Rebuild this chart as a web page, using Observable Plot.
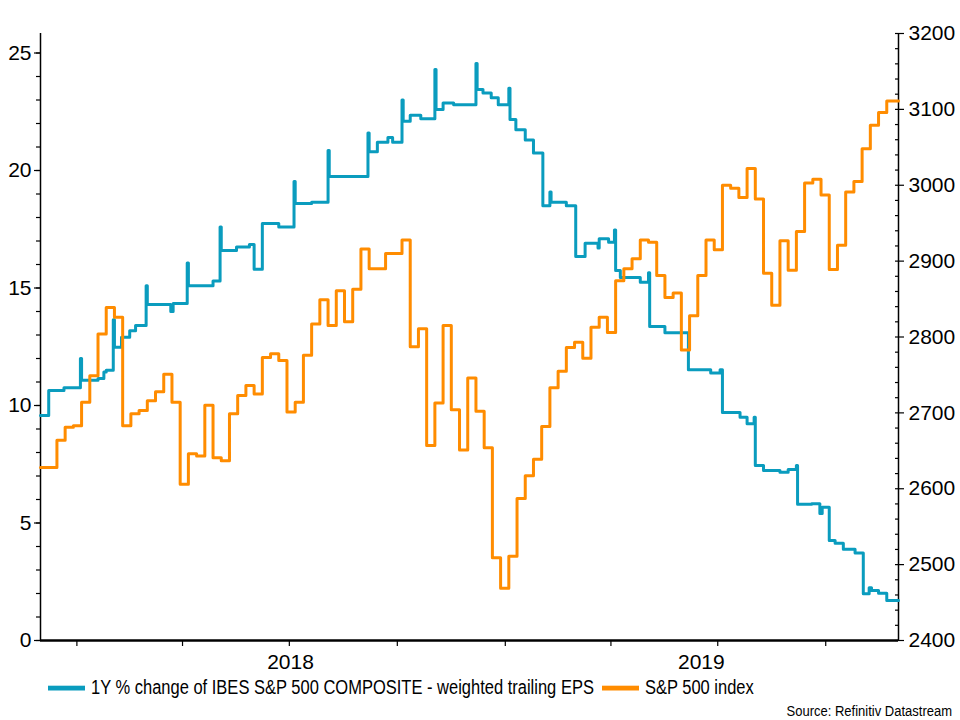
<!DOCTYPE html>
<html>
<head>
<meta charset="utf-8">
<script src="https://cdn.jsdelivr.net/npm/d3@7"></script>
<script src="https://cdn.jsdelivr.net/npm/@observablehq/plot@0.6"></script>
<style>
  html, body { margin: 0; padding: 0; background: #fff; }
  #wrap { position: relative; width: 960px; height: 720px; overflow: hidden;
          font-family: "Liberation Sans", Arial, sans-serif; color: #000; }
  #chart { position: absolute; left: 0; top: 0; }
  #legend { position: absolute; left: 48px; top: 678px; display: flex; align-items: center; font-size: 16.5px; white-space: nowrap;
            transform: scaleY(1.2); transform-origin: left center; }
  #legend .sw { display: inline-block; width: 37px; height: 4px; margin-right: 6px; }
  #legend .item { display: flex; align-items: center; margin-right: 8px; }
  #source { position: absolute; right: 8px; top: 703px; font-size: 13px; transform: scaleY(1.15); transform-origin: right center; }
</style>
</head>
<body>
<div id="wrap">
  <div id="chart"></div>
  <div id="legend"></div>
  <div id="source">Source: Refinitiv Datastream</div>
</div>
<script>
// ---- Data ----
const epsLabel = "1Y % change of IBES S&P 500 COMPOSITE - weighted trailing EPS";
const spxLabel = "S&P 500 index";
const epsColor = "#0a9cbe";
const spxColor = "#ff8c00";

// 1Y % change of trailing EPS (left axis), value from each date onward
const epsSeries = [
  ["2017-12-01", 9.57], ["2017-12-08", 10.64], ["2017-12-21", 10.76], ["2018-01-04", 12.0],
  ["2018-01-05", 11.07], ["2018-01-19", 11.15], ["2018-01-24", 11.43], ["2018-01-26", 11.5],
  ["2018-02-01", 13.65], ["2018-02-02", 12.48], ["2018-02-08", 12.9], ["2018-02-15", 13.18],
  ["2018-02-20", 13.4], ["2018-03-01", 15.1], ["2018-03-02", 14.3], ["2018-03-22", 14.0],
  ["2018-03-24", 14.34], ["2018-04-05", 16.06], ["2018-04-06", 15.1], ["2018-04-27", 15.3],
  ["2018-05-03", 17.6], ["2018-05-04", 16.6], ["2018-05-17", 16.75], ["2018-05-28", 16.85],
  ["2018-06-01", 15.8], ["2018-06-08", 17.74], ["2018-06-22", 17.6], ["2018-07-05", 19.53],
  ["2018-07-06", 18.6], ["2018-07-20", 18.65], ["2018-08-03", 20.85], ["2018-08-04", 19.75],
  ["2018-09-06", 21.6], ["2018-09-07", 20.8], ["2018-09-14", 21.2], ["2018-09-23", 21.4],
  ["2018-09-27", 21.2], ["2018-10-05", 23.0], ["2018-10-06", 22.1], ["2018-10-12", 22.35],
  ["2018-10-21", 22.2], ["2018-11-02", 24.3], ["2018-11-03", 22.6], ["2018-11-09", 22.87],
  ["2018-11-18", 22.8], ["2018-12-07", 24.55], ["2018-12-08", 23.45], ["2018-12-13", 23.3],
  ["2018-12-20", 23.1], ["2018-12-26", 22.8], ["2019-01-04", 23.5], ["2019-01-05", 22.17],
  ["2019-01-10", 21.73], ["2019-01-18", 21.3], ["2019-01-25", 20.74], ["2019-02-02", 18.5],
  ["2019-02-08", 19.08], ["2019-02-09", 18.65], ["2019-02-22", 18.5], ["2019-03-02", 16.34],
  ["2019-03-10", 16.9], ["2019-03-21", 16.7], ["2019-03-22", 17.1], ["2019-03-30", 16.95],
  ["2019-04-04", 17.47], ["2019-04-05", 15.75], ["2019-04-09", 15.45], ["2019-04-26", 15.25],
  ["2019-05-03", 15.65], ["2019-05-04", 13.36], ["2019-05-17", 13.1], ["2019-06-06", 11.52],
  ["2019-06-25", 11.38], ["2019-07-03", 11.52], ["2019-07-05", 9.7], ["2019-07-20", 9.5],
  ["2019-07-26", 9.22], ["2019-08-01", 9.5], ["2019-08-02", 7.45], ["2019-08-09", 7.23],
  ["2019-08-23", 7.16], ["2019-08-30", 7.28], ["2019-09-06", 7.45], ["2019-09-07", 5.8],
  ["2019-09-19", 5.82], ["2019-09-26", 5.4], ["2019-09-28", 5.67], ["2019-10-04", 4.26],
  ["2019-10-09", 4.14], ["2019-10-16", 3.88], ["2019-10-26", 3.72], ["2019-11-02", 1.99],
  ["2019-11-07", 2.24], ["2019-11-09", 2.13], ["2019-11-15", 2.01], ["2019-11-22", 1.7],
  ["2019-12-02", 1.7]
];

// S&P 500 index, weekly (right axis)
const spxSeries = [
  ["2017-12-01", 2628], ["2017-12-08", 2628], ["2017-12-15", 2664], ["2017-12-22", 2681],
  ["2017-12-29", 2683], ["2018-01-05", 2714], ["2018-01-12", 2749], ["2018-01-19", 2804],
  ["2018-01-26", 2839], ["2018-02-02", 2826], ["2018-02-09", 2683], ["2018-02-16", 2699],
  ["2018-02-23", 2703], ["2018-03-02", 2716], ["2018-03-09", 2728], ["2018-03-16", 2751],
  ["2018-03-23", 2714], ["2018-03-30", 2606], ["2018-04-06", 2646], ["2018-04-13", 2643],
  ["2018-04-20", 2710], ["2018-04-27", 2641], ["2018-05-04", 2637], ["2018-05-11", 2699],
  ["2018-05-18", 2723], ["2018-05-25", 2736], ["2018-06-01", 2725], ["2018-06-08", 2773],
  ["2018-06-15", 2778], ["2018-06-22", 2769], ["2018-06-29", 2701], ["2018-07-06", 2714],
  ["2018-07-13", 2776], ["2018-07-20", 2817], ["2018-07-27", 2849], ["2018-08-03", 2815],
  ["2018-08-10", 2861], ["2018-08-17", 2820], ["2018-08-24", 2863], ["2018-08-31", 2916],
  ["2018-09-07", 2890], ["2018-09-14", 2890], ["2018-09-21", 2910], ["2018-09-28", 2910],
  ["2018-10-05", 2928], ["2018-10-12", 2787], ["2018-10-19", 2811], ["2018-10-26", 2657],
  ["2018-11-02", 2713], ["2018-11-09", 2815], ["2018-11-16", 2704], ["2018-11-23", 2651],
  ["2018-11-30", 2746], ["2018-12-07", 2702], ["2018-12-14", 2654], ["2018-12-21", 2509],
  ["2018-12-28", 2469], ["2019-01-04", 2511], ["2019-01-11", 2587], ["2019-01-18", 2617],
  ["2019-01-25", 2639], ["2019-02-01", 2682], ["2019-02-08", 2733], ["2019-02-15", 2755],
  ["2019-02-22", 2786], ["2019-03-01", 2793], ["2019-03-08", 2772], ["2019-03-15", 2813],
  ["2019-03-22", 2826], ["2019-03-29", 2806], ["2019-04-05", 2874], ["2019-04-12", 2890],
  ["2019-04-19", 2903], ["2019-04-26", 2928], ["2019-05-03", 2925], ["2019-05-10", 2881],
  ["2019-05-17", 2852], ["2019-05-24", 2858], ["2019-05-31", 2783], ["2019-06-07", 2828],
  ["2019-06-14", 2881], ["2019-06-21", 2928], ["2019-06-28", 2915], ["2019-07-05", 3000],
  ["2019-07-12", 2996], ["2019-07-19", 2984], ["2019-07-26", 3022], ["2019-08-02", 2982],
  ["2019-08-09", 2884], ["2019-08-16", 2842], ["2019-08-23", 2927], ["2019-08-30", 2888],
  ["2019-09-06", 2939], ["2019-09-13", 3003], ["2019-09-20", 3008], ["2019-09-27", 2987],
  ["2019-10-04", 2889], ["2019-10-11", 2921], ["2019-10-18", 2991], ["2019-10-25", 3005],
  ["2019-11-01", 3048], ["2019-11-08", 3079], ["2019-11-15", 3096], ["2019-11-22", 3111],
  ["2019-11-29", 3111], ["2019-12-02", 3111]
];

// Axis ticks / labels
const leftTicks = [0, 5, 10, 15, 20, 25];
const leftDomain = [0, 25.83];
const rightTicks = [2400, 2500, 2600, 2700, 2800, 2900, 3000, 3100, 3200];
const rightDomain = [2400, 3200];
const xDomain = ["2017-12-01", "2019-12-02"];
const yearLabels = [["2018-07-02", "2018"], ["2019-06-17", "2019"]];

// ---- Build ----
const parse = d3.utcParse("%Y-%m-%d");
const eps = epsSeries.map(([d, v]) => ({date: parse(d), value: v}));
const spx = spxSeries.map(([d, v]) => ({date: parse(d), value: v}));
const years = yearLabels.map(([d, t]) => ({date: parse(d), label: t}));

const Lmax = leftDomain[1];
const toL = v => (v - rightDomain[0]) / (rightDomain[1] - rightDomain[0]) * Lmax;
const fromL = v => rightDomain[0] + v / Lmax * (rightDomain[1] - rightDomain[0]);

const chart = Plot.plot({
  width: 960,
  height: 672,
  marginLeft: 40,
  marginRight: 62,
  marginTop: 33,
  marginBottom: 32,
  style: {fontFamily: '"Liberation Sans", Arial, sans-serif', fontSize: "21px", color: "#000", background: "#fff", overflow: "visible"},
  x: {type: "utc", domain: xDomain.map(parse), label: null},
  y: {domain: leftDomain, label: null},
  marks: [
    // left axis: minor + major ticks
    Plot.axisY(d3.range(0, 26, 1), {anchor: "left", tickSize: 4, tickFormat: () => "", label: null, strokeWidth: 1.2}),
    Plot.axisY(leftTicks, {anchor: "left", tickSize: 6, tickPadding: 3, tickFormat: d => String(d), label: null, strokeWidth: 1.2, fontSize: 21}),
    // right axis: minor + major ticks
    Plot.axisY(d3.range(2400, 3201, 20).map(toL), {anchor: "right", tickSize: -4, tickFormat: () => "", label: null, strokeWidth: 1.2}),
    Plot.axisY(rightTicks.map(toL), {anchor: "right", tickSize: 5, tickPadding: 5, tickFormat: d => String(Math.round(fromL(d))), label: null, strokeWidth: 1.2, fontSize: 21}),
    // bottom: quarter ticks
    Plot.axisX({ticks: "3 months", tickSize: 6, tickFormat: () => "", label: null, strokeWidth: 1.2}),
    Plot.text(years, {x: "date", frameAnchor: "bottom", dy: 22, text: "label", fontSize: 21, textAnchor: "middle", lineAnchor: "middle"}),
    // axis lines
    Plot.ruleX([parse(xDomain[0])], {stroke: "#000", strokeWidth: 1.5}),
    Plot.ruleX([parse(xDomain[1])], {stroke: "#000", strokeWidth: 1.5}),
    Plot.ruleY([0], {stroke: "#000", strokeWidth: 2.5}),
    // series
    Plot.line(eps, {x: "date", y: "value", curve: "step-after", stroke: epsColor, strokeWidth: 3, strokeLinejoin: "round"}),
    Plot.line(spx, {x: "date", y: d => toL(d.value), curve: "step-after", stroke: spxColor, strokeWidth: 3, strokeLinejoin: "round"})
  ]
});
document.getElementById("chart").appendChild(chart);

// legend
const legend = document.getElementById("legend");
[[epsLabel, epsColor], [spxLabel, spxColor]].forEach(([label, color]) => {
  const item = document.createElement("span");
  item.className = "item";
  const sw = document.createElement("span");
  sw.className = "sw";
  sw.style.background = color;
  item.appendChild(sw);
  item.appendChild(document.createTextNode(label));
  legend.appendChild(item);
});
</script>
</body>
</html>
